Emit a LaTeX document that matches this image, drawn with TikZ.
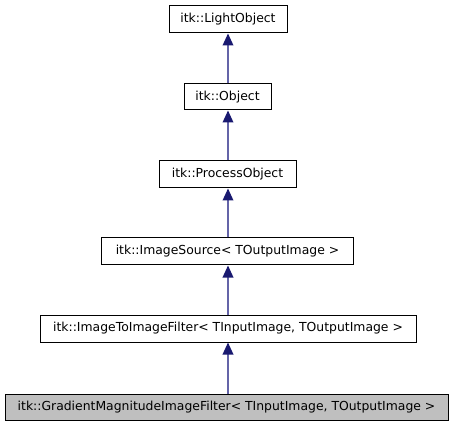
\documentclass[tikz,border=0pt]{standalone}
\usepackage{fontspec}
\setmainfont{DejaVu Sans}
\usetikzlibrary{arrows.meta}
\definecolor{edgecol}{HTML}{6464A8}
\definecolor{tipcol}{HTML}{191970}
\definecolor{grayfill}{HTML}{BFBFBF}
\tikzset{
  cls/.style={draw=black, line width=0.75pt, fill=white, inner sep=0pt, font=\fontsize{9.3}{11}\selectfont, anchor=center},
  cur/.style={cls, fill=grayfill},
  inh/.style={draw=edgecol, line width=1pt, -{Triangle[length=9pt, width=8pt, fill=tipcol, color=tipcol]}},
}
\begin{document}
\begin{tikzpicture}[x=0.75pt, y=-0.75pt]
\useasboundingbox (0,0) rectangle (456,427);
\node[cls, minimum width=118*0.75pt, minimum height=27*0.75pt] (L) at (228,19.5) {itk::LightObject};
\node[cls, minimum width=87*0.75pt, minimum height=26*0.75pt] (O) at (227.5,97) {itk::Object};
\node[cls, minimum width=137*0.75pt, minimum height=27*0.75pt] (P) at (227.5,174.5) {itk::ProcessObject};
\node[cls, minimum width=252*0.75pt, minimum height=27*0.75pt] (S) at (227.5,251.5) {itk::ImageSource< TOutputImage >};
\node[cls, minimum width=376*0.75pt, minimum height=27*0.75pt] (F) at (228,328.5) {itk::ImageToImageFilter< TInputImage, TOutputImage >};
\node[cur, minimum width=443*0.75pt, minimum height=26*0.75pt] (G) at (226.5,407) {itk::GradientMagnitudeImageFilter< TInputImage, TOutputImage >};
\draw[inh] (O.north -| L.south) -- (L.south);
\draw[inh] (P.north -| L.south) -- (O.south -| L.south);
\draw[inh] (S.north -| L.south) -- (P.south -| L.south);
\draw[inh] (F.north -| L.south) -- (S.south -| L.south);
\draw[inh] (G.north -| L.south) -- (F.south -| L.south);
\end{tikzpicture}
\end{document}
